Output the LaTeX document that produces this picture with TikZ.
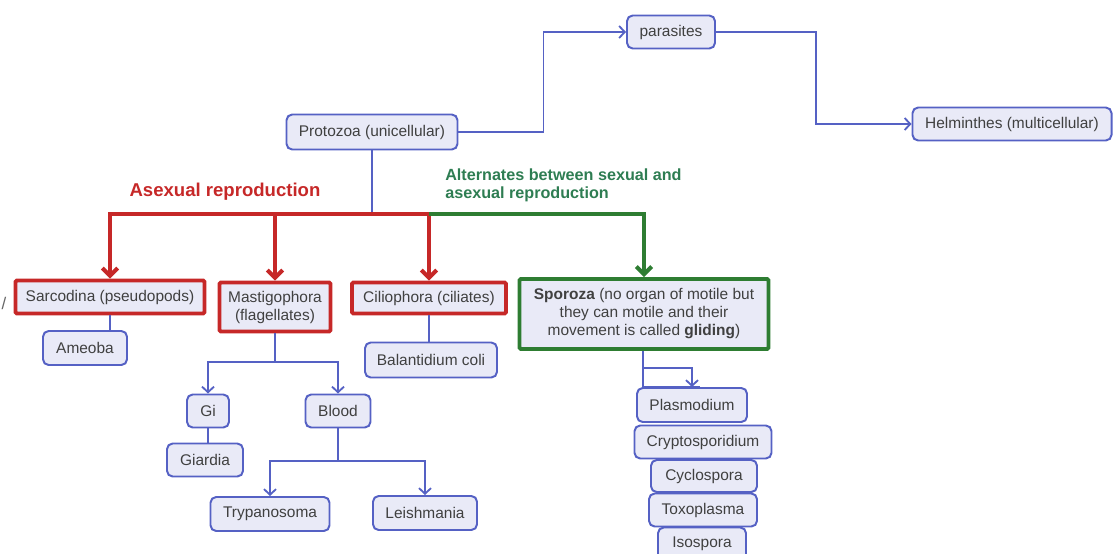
\documentclass[tikz,border=0pt]{standalone}
\usepackage{fontspec}
\setmainfont{Liberation Sans}
\usetikzlibrary{arrows.meta,positioning,calc}
\definecolor{lineblue}{HTML}{5561C4}
\definecolor{boxfill}{HTML}{E9EAF7}
\definecolor{redline}{HTML}{C62828}
\definecolor{greenline}{HTML}{2E7D32}
\definecolor{greentext}{HTML}{2E7D52}
\definecolor{textgray}{HTML}{404040}
\tikzset{
  size/.style 2 args={minimum width=#1*0.025cm, minimum height=#2*0.025cm},
  taxon/.style={draw=lineblue, fill=boxfill, line width=1.4pt, rounded corners=4pt,
    text=textgray, font=\fontsize{11}{12.8}\selectfont, inner sep=1pt, align=center},
  redtaxon/.style={taxon, draw=redline, line width=2.8pt, rounded corners=1pt},
  greentaxon/.style={taxon, draw=greenline, line width=2.8pt, rounded corners=1pt},
  link/.style={draw=lineblue, line width=1.3pt},
  linkarrow/.style={link, -{Straight Barb[length=4pt,width=8.5pt]}},
  redarrow/.style={draw=redline, line width=2.8pt, -{Straight Barb[length=5.5pt,width=11pt]}},
  greenarrow/.style={draw=greenline, line width=2.8pt, -{Straight Barb[length=5.5pt,width=11pt]}}
}
\begin{document}
\begin{tikzpicture}[x=0.025cm, y=-0.025cm]
\useasboundingbox (0,0) rectangle (1117,553);

% top row
\node[taxon, size={171}{35}] (protozoa)   at (372,132)  {Protozoa (unicellular)};
\node[taxon, size={88}{33}]  (parasites)  at (671,32)   {parasites};
\node[taxon, size={199}{33}] (helminthes) at (1012,124) {Helminthes (multicellular)};
\draw[linkarrow] (protozoa.east) -- ++(85,0) |- (parasites.west);
\draw[linkarrow] (parasites.east) -- ++(100,0) |- (helminthes.west);

% reproduction labels
\node[font=\bfseries\fontsize{13.2}{15}\selectfont, text=redline] (asexual) at (225,192) {Asexual reproduction};
\node[font=\bfseries\fontsize{11.5}{12.8}\selectfont, text=greentext, align=left, anchor=west, inner sep=0pt]
  (alternates) at (445,185) {Alternates between sexual and\\asexual reproduction};

% main groups
\node[redtaxon, size={189}{33}]   (sarcodina) at (110,297) {Sarcodina (pseudopods)};
\node[redtaxon, size={111}{49}]   (mastigo)   at (275,307) {Mastigophora\\(flagellates)};
\node[redtaxon, size={154}{31}]   (cilio)     at (429,298) {Ciliophora (ciliates)};
\node[greentaxon, size={249}{70}] (sporoza)   at (644,314)
  {\textbf{Sporoza} (no organ of motile but\\they can motile and their\\movement is called \textbf{gliding})};

% bus from protozoa
\coordinate (bus) at (372,214);
\draw[link] (protozoa.south) -- (bus);
\draw[redarrow] (bus) -| (sarcodina.north);
\draw[redarrow] (bus) -| (mastigo.north);
\draw[redarrow] (bus) -| (cilio.north);
\draw[greenarrow] (cilio.north |- bus) -| (sporoza.north);

% sarcodina and ciliophora
\node[taxon, size={84}{34}]  (ameoba)      at (85,348)  {Ameoba};
\node[taxon, size={132}{35}] (balantidium) at (431,360) {Balantidium coli};
\draw[link] (sarcodina.south) -- (sarcodina.south |- ameoba.north);
\draw[link] (cilio.south) -- (cilio.south |- balantidium.north);

% mastigophora branch
\node[taxon, size={42}{33}]  (gi)          at (208,411) {Gi};
\node[taxon, size={65}{33}]  (blood)       at (338,411) {Blood};
\node[taxon, size={76}{33}]  (giardia)     at (205,460) {Giardia};
\node[taxon, size={119}{34}] (trypanosoma) at (270,514) {Trypanosoma};
\node[taxon, size={104}{34}] (leishmania)  at (425,513) {Leishmania};
\coordinate (mfork) at (275,362);
\coordinate (bfork) at (338,461);
\draw[link] (mastigo.south) -- (mfork);
\draw[linkarrow] (mfork) -| (gi.north);
\draw[linkarrow] (mfork) -| (blood.north);
\draw[link] (gi.south) -- (gi.south |- giardia.north);
\draw[link] (blood.south) -- (bfork);
\draw[linkarrow] (bfork) -| (trypanosoma.north);
\draw[linkarrow] (bfork) -| (leishmania.north);

% sporoza stack
\node[taxon, size={110}{34}] (plasmodium) at (692,405) {Plasmodium};
\node[taxon, size={137}{33}] (crypto)     at (703,442) {Cryptosporidium};
\node[taxon, size={106}{32}] (cyclo)      at (704,476) {Cyclospora};
\node[taxon, size={108}{33}] (toxo)       at (703,510) {Toxoplasma};
\node[taxon, size={88}{33}]  (isospora)   at (702,544) {Isospora};
\coordinate (sfork) at (643,368);
\draw[link] (sporoza.south -| sfork) |- ($(plasmodium.north)+(8,0)$);
\draw[linkarrow] (sfork) -| (plasmodium.north);

% cut-off text at the left edge
\node[text=textgray!80, font=\fontsize{12}{13}\selectfont, inner sep=0pt] (edge) at (4,303) {/};
\end{tikzpicture}
\end{document}
